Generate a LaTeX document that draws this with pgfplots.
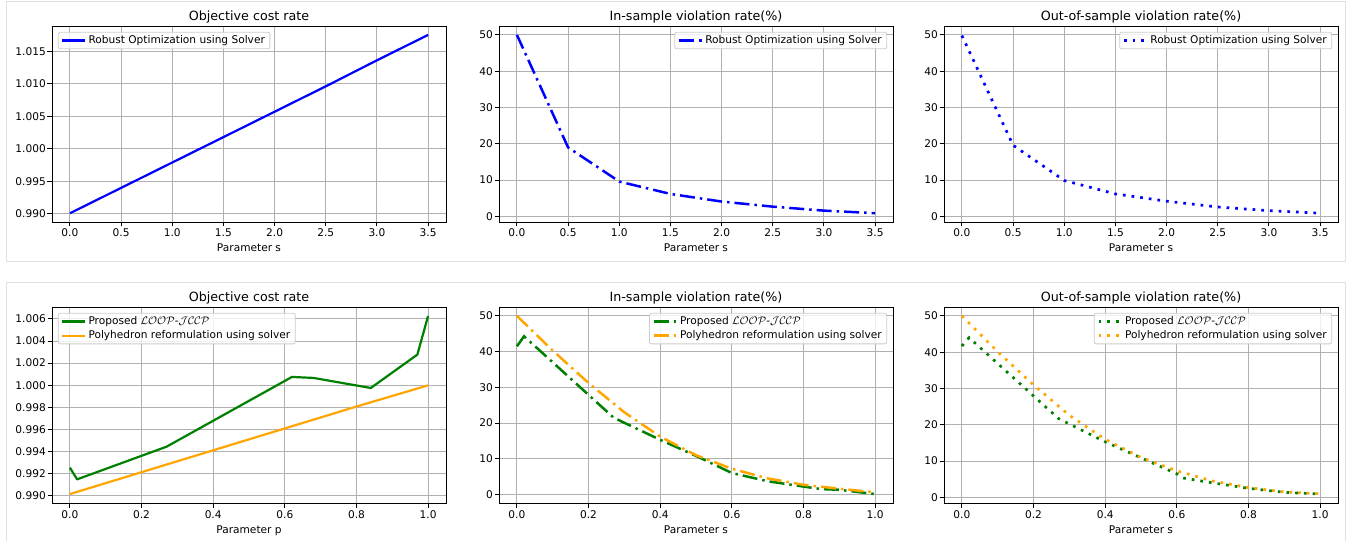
\documentclass[border=0pt]{standalone}
\usepackage{fontspec}
\setmainfont{DejaVu Sans}
\usepackage{pgfplots}
\pgfplotsset{compat=1.18}

\definecolor{mplblue}{HTML}{0000FF}
\definecolor{mplgreen}{HTML}{008000}
\definecolor{mplorange}{HTML}{FFA500}
\definecolor{gridgray}{HTML}{B0B0B0}
\definecolor{legendgray}{HTML}{CCCCCC}
\definecolor{framegray}{HTML}{E0E0E0}

\newcommand{\tickfont}{\fontsize{10.6}{12.5}\selectfont}
\newcommand{\loopname}{Proposed $\mathcal{LOOP}$-$\mathcal{JCCP}$}

\pgfplotsset{
  panel/.style={
    scale only axis, width=394pt, height=196pt, anchor=south west,
    axis line style={black, line width=0.9pt},
    tick align=outside, tick pos=left,
    major tick length=4.5pt,
    every tick/.style={black, line width=0.9pt},
    grid=major, grid style={color=gridgray, line width=0.9pt},
    title style={at={(0.5,1)}, anchor=base, yshift=-1pt, inner sep=0pt,
      font=\fontsize{12.7}{15}\selectfont},
    xlabel style={at={(axis description cs:0.5,0)}, anchor=base, yshift=-30pt,
      inner sep=0pt, font=\tickfont},
    tick label style={font=\tickfont},
    xticklabel style={anchor=base, yshift=-10.5pt, inner sep=0pt},
    yticklabel style={anchor=east, xshift=-1.5pt, inner sep=0pt},
    /pgf/number format/assume math mode=true,
    scaled ticks=false,
    legend cell align=left,
    legend image code/.code={\draw[##1, line cap=butt] (0pt,0pt) -- (23pt,0pt);},
    legend style={draw=legendgray, line width=0.8pt, rounded corners=2pt,
      fill=white, fill opacity=0.8, text opacity=1, font=\tickfont,
      inner xsep=3pt, inner ysep=1.5pt, row sep=0.5pt,
      nodes={inner sep=2pt},
      /tikz/every even column/.append style={column sep=4pt}},
  },
  sol/.style={line width=2.2pt, line join=round},
  dd/.style={line width=2.5pt, dash pattern=on 15pt off 5pt on 2.5pt off 5pt},
  dt/.style={line width=2.7pt, dash pattern=on 2.7pt off 6pt},
  s35/.style={xmin=-0.175, xmax=3.675, xtick={0,0.5,1,1.5,2,2.5,3,3.5},
    xticklabel style={/pgf/number format/.cd, fixed, fixed zerofill, precision=1},
    xlabel={Parameter s}},
  p01/.style={xmin=-0.05, xmax=1.05, xtick={0,0.2,0.4,0.6,0.8,1},
    xticklabel style={/pgf/number format/.cd, fixed, fixed zerofill, precision=1}},
  pct/.style={ytick={0,10,20,30,40,50}},
  ul/.style={legend style={at={(0.015,0.97)}, anchor=north west}},
  ur/.style={legend style={at={(0.985,0.97)}, anchor=north east}},
}

\begin{document}
\begin{tikzpicture}[x=1pt, y=1pt]
\useasboundingbox (0,0) rectangle (1351,541);
\draw[framegray, line width=1pt] (6.5,539) rectangle (1345,279);
\draw[framegray, line width=1pt] (6.5,0) -- (6.5,258) -- (1345,258) -- (1345,0);

% ---- top row ----
\begin{axis}[panel, s35, ul, at={(52pt,319pt)},
  title={Objective cost rate},
  ymin=0.98876, ymax=1.01887,
  ytick={0.990,0.995,1.000,1.005,1.010,1.015},
  yticklabel style={/pgf/number format/.cd, fixed, fixed zerofill, precision=3}]
\addplot[sol, mplblue] coordinates {
  (0,0.9901) (0.5,0.9940) (1.0,0.9979) (1.5,1.0018)
  (2.0,1.0057) (2.5,1.0096) (3.0,1.0136) (3.5,1.0175)};
\addlegendentry{Robust Optimization using Solver}
\end{axis}

\begin{axis}[panel, s35, ur, pct, at={(499pt,319pt)},
  title={In-sample violation rate(\%)},
  ymin=-1.53, ymax=52.45]
\addplot[dd, mplblue] coordinates {
  (0,50.0) (0.5,19.0) (1.0,9.6) (1.5,6.2)
  (2.0,4.1) (2.5,2.7) (3.0,1.6) (3.5,0.9)};
\addlegendentry{Robust Optimization using Solver}
\end{axis}

\begin{axis}[panel, s35, ur, pct, at={(944pt,319pt)},
  title={Out-of-sample violation rate(\%)},
  ymin=-1.53, ymax=52.45]
\addplot[dt, mplblue] coordinates {
  (0,49.8) (0.5,19.6) (1.0,9.9) (1.5,6.2)
  (2.0,4.2) (2.5,2.6) (3.0,1.6) (3.5,0.9)};
\addlegendentry{Robust Optimization using Solver}
\end{axis}

% ---- bottom row ----
\begin{axis}[panel, p01, ul, at={(52pt,38pt)},
  title={Objective cost rate}, xlabel={Parameter p},
  ymin=0.98934, ymax=1.00708,
  ytick={0.990,0.992,0.994,0.996,0.998,1.000,1.002,1.004,1.006},
  yticklabel style={/pgf/number format/.cd, fixed, fixed zerofill, precision=3}]
\addplot[sol, mplgreen] coordinates {
  (0,0.99254) (0.02,0.99148) (0.27,0.99444) (0.62,1.00075)
  (0.68,1.00066) (0.84,0.99975) (0.97,1.00277) (1.0,1.00627)};
\addlegendentry{\loopname}
\addplot[sol, mplorange] coordinates {
  (0,0.99015) (0.2,0.99213) (0.4,0.99411) (0.6,0.99609)
  (0.8,0.99807) (1.0,0.99999)};
\addlegendentry{Polyhedron reformulation using solver}
\end{axis}

\begin{axis}[panel, p01, ur, pct, at={(499pt,38pt)},
  title={In-sample violation rate(\%)}, xlabel={Parameter s},
  ymin=-2.4, ymax=52.5]
\addplot[dd, mplgreen] coordinates {
  (0,41.5) (0.02,44.3) (0.27,21.5) (0.4,15.3) (0.5,10.8) (0.6,6.0)
  (0.7,3.7) (0.8,2.2) (0.85,1.5) (0.9,1.3) (1.0,0.1)};
\addlegendentry{\loopname}
\addplot[dd, mplorange] coordinates {
  (0,50.0) (0.1,40.3) (0.2,31.2) (0.3,23.0) (0.4,16.2) (0.5,11.0)
  (0.6,7.2) (0.7,4.5) (0.8,2.7) (0.9,1.6) (1.0,0.6)};
\addlegendentry{Polyhedron reformulation using solver}
\end{axis}

\begin{axis}[panel, p01, ur, pct, at={(944pt,38pt)},
  title={Out-of-sample violation rate(\%)}, xlabel={Parameter s},
  ymin=-1.55, ymax=52.45]
\addplot[dt, mplgreen] coordinates {
  (0,41.7) (0.02,44.0) (0.27,21.7) (0.4,15.3) (0.5,10.9) (0.6,6.5)
  (0.62,5.3) (0.7,4.0) (0.8,2.5) (0.9,1.4) (1.0,0.9)};
\addlegendentry{\loopname}
\addplot[dt, mplorange] coordinates {
  (0,50.0) (0.1,40.1) (0.2,31.0) (0.3,22.6) (0.4,16.0) (0.5,11.0)
  (0.6,7.3) (0.7,4.5) (0.8,2.7) (0.9,1.5) (1.0,1.0)};
\addlegendentry{Polyhedron reformulation using solver}
\end{axis}
\end{tikzpicture}
\end{document}
